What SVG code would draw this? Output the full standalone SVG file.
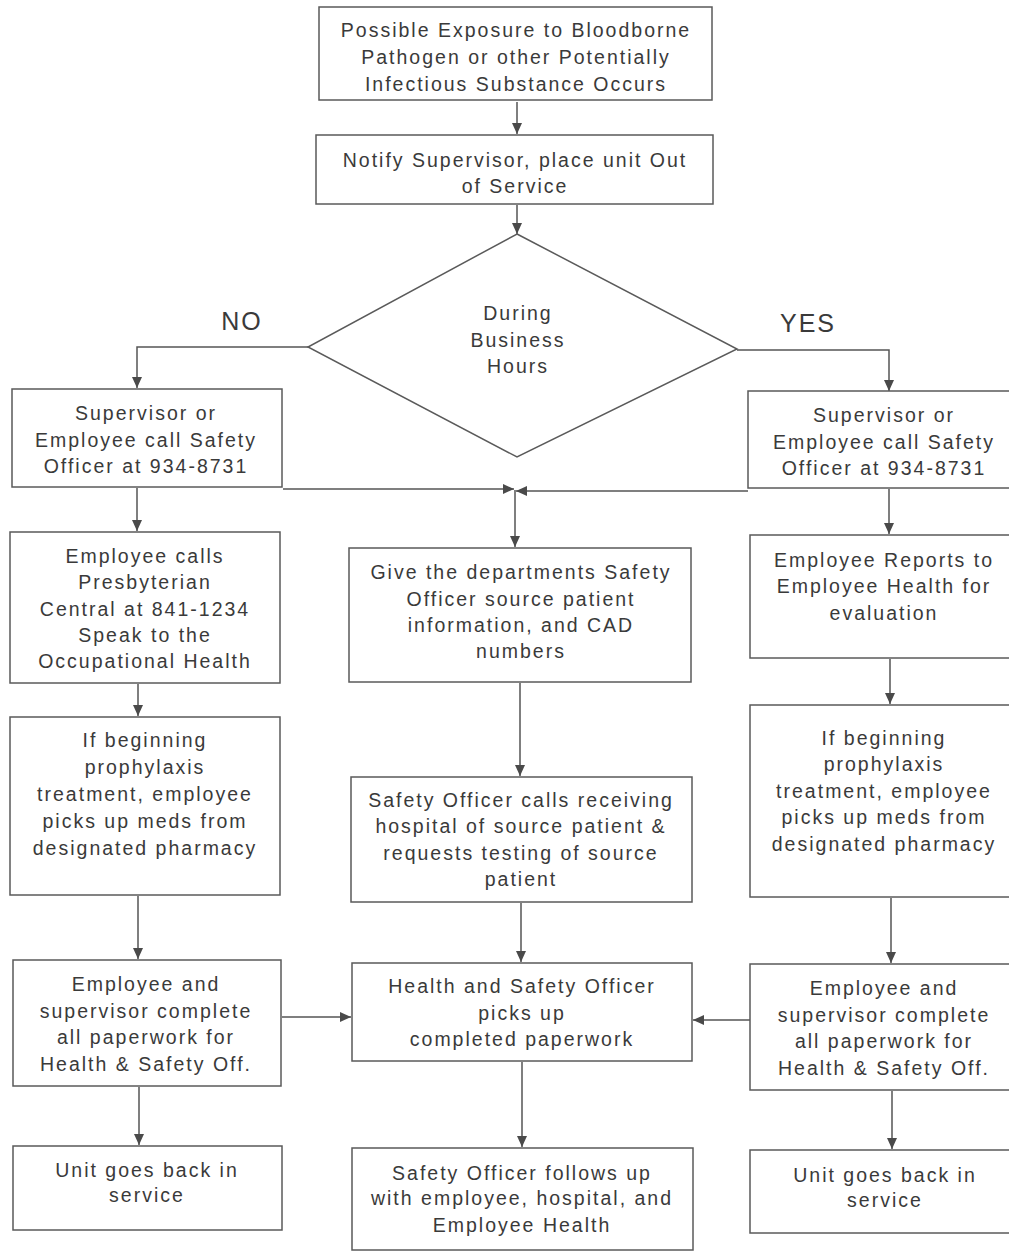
<svg xmlns="http://www.w3.org/2000/svg" width="1009" height="1252" viewBox="0 0 1009 1252">
<style>
.b{fill:#fff;stroke:#5a5a5a;stroke-width:1.5}
.t{font-family:"Liberation Sans",Arial,sans-serif;font-size:19.5px;letter-spacing:2px;fill:#3a3a3a;text-anchor:middle}
.l{font-family:"Liberation Sans",Arial,sans-serif;font-size:25px;letter-spacing:2px;fill:#3a3a3a;text-anchor:middle}
.c{fill:none;stroke:#555;stroke-width:1.5}
</style>
<defs>
<marker id="ah" markerUnits="userSpaceOnUse" markerWidth="12" markerHeight="10" refX="11" refY="5" orient="auto"><path d="M0,0 L11,5 L0,10 Z" fill="#4a4a4a"/></marker>
</defs>
<rect width="1009" height="1252" fill="#fff"/>
<g id="connectors">
<path class="c" marker-end="url(#ah)" d="M517,102 V134"/>
<path class="c" marker-end="url(#ah)" d="M517,205 V234"/>
<path class="c" marker-end="url(#ah)" d="M308,347 H137 V388"/>
<path class="c" marker-end="url(#ah)" d="M737,350 H889 V391"/>
<path class="c" marker-end="url(#ah)" d="M137,488 V531"/>
<path class="c" marker-end="url(#ah)" d="M283,489 H514"/>
<path class="c" marker-end="url(#ah)" d="M748,491 H516"/>
<path class="c" marker-end="url(#ah)" d="M515,490 V547"/>
<path class="c" marker-end="url(#ah)" d="M889,489 V534"/>
<path class="c" marker-end="url(#ah)" d="M138,684 V716"/>
<path class="c" marker-end="url(#ah)" d="M890,659 V704"/>
<path class="c" marker-end="url(#ah)" d="M520,683 V776"/>
<path class="c" marker-end="url(#ah)" d="M138,896 V959"/>
<path class="c" marker-end="url(#ah)" d="M521,903 V962"/>
<path class="c" marker-end="url(#ah)" d="M891,898 V963"/>
<path class="c" marker-end="url(#ah)" d="M282,1017 H351"/>
<path class="c" marker-end="url(#ah)" d="M750,1020 H693"/>
<path class="c" marker-end="url(#ah)" d="M139,1087 V1145"/>
<path class="c" marker-end="url(#ah)" d="M522,1062 V1147"/>
<path class="c" marker-end="url(#ah)" d="M892,1091 V1149"/>
</g>
<g id="start"><rect class="b" x="319" y="7" width="393" height="93"/>
<text class="t" x="516" y="37">Possible Exposure to Bloodborne</text><text class="t" x="516" y="64">Pathogen or other Potentially</text><text class="t" x="516" y="91">Infectious Substance Occurs</text></g>
<g id="notify"><rect class="b" x="316" y="135" width="397" height="69"/>
<text class="t" x="515" y="167">Notify Supervisor, place unit Out</text><text class="t" x="515" y="193">of Service</text></g>
<g id="decision"><polygon class="b" points="517,234 737,349 517,457 308,347"/>
<text class="t" x="518" y="320">During</text><text class="t" x="518" y="347">Business</text><text class="t" x="518" y="373">Hours</text></g>
<g id="label-no"><text class="l" x="242" y="330">NO</text></g>
<g id="label-yes"><text class="l" x="808" y="332">YES</text></g>
<g id="l1"><rect class="b" x="12" y="389" width="270" height="98"/>
<text class="t" x="146" y="420">Supervisor or</text><text class="t" x="146" y="447">Employee call Safety</text><text class="t" x="146" y="473">Officer at 934-8731</text></g>
<g id="r1"><rect class="b" x="748" y="391" width="267" height="97"/>
<text class="t" x="884" y="422">Supervisor or</text><text class="t" x="884" y="449">Employee call Safety</text><text class="t" x="884" y="475">Officer at 934-8731</text></g>
<g id="l2"><rect class="b" x="10" y="532" width="270" height="151"/>
<text class="t" x="145" y="563">Employee calls</text><text class="t" x="145" y="589">Presbyterian</text><text class="t" x="145" y="616">Central at 841-1234</text><text class="t" x="145" y="642">Speak to the</text><text class="t" x="145" y="668">Occupational Health</text></g>
<g id="m1"><rect class="b" x="349" y="548" width="342" height="134"/>
<text class="t" x="521" y="579">Give the departments Safety</text><text class="t" x="521" y="606">Officer source patient</text><text class="t" x="521" y="632">information, and CAD</text><text class="t" x="521" y="658">numbers</text></g>
<g id="r2"><rect class="b" x="750" y="535" width="265" height="123"/>
<text class="t" x="884" y="567">Employee Reports to</text><text class="t" x="884" y="593">Employee Health for</text><text class="t" x="884" y="620">evaluation</text></g>
<g id="l3"><rect class="b" x="10" y="717" width="270" height="178"/>
<text class="t" x="145" y="747">If beginning</text><text class="t" x="145" y="774">prophylaxis</text><text class="t" x="145" y="801">treatment, employee</text><text class="t" x="145" y="828">picks up meds from</text><text class="t" x="145" y="855">designated pharmacy</text></g>
<g id="m2"><rect class="b" x="351" y="777" width="341" height="125"/>
<text class="t" x="521" y="807">Safety Officer calls receiving</text><text class="t" x="521" y="833">hospital of source patient &amp;</text><text class="t" x="521" y="860">requests testing of source</text><text class="t" x="521" y="886">patient</text></g>
<g id="r3"><rect class="b" x="750" y="705" width="265" height="192"/>
<text class="t" x="884" y="745">If beginning</text><text class="t" x="884" y="771">prophylaxis</text><text class="t" x="884" y="798">treatment, employee</text><text class="t" x="884" y="824">picks up meds from</text><text class="t" x="884" y="851">designated pharmacy</text></g>
<g id="l4"><rect class="b" x="13" y="960" width="268" height="126"/>
<text class="t" x="146" y="991">Employee and</text><text class="t" x="146" y="1018">supervisor complete</text><text class="t" x="146" y="1044">all paperwork for</text><text class="t" x="146" y="1071">Health &amp; Safety Off.</text></g>
<g id="m3"><rect class="b" x="352" y="963" width="340" height="98"/>
<text class="t" x="522" y="993">Health and Safety Officer</text><text class="t" x="522" y="1020">picks up</text><text class="t" x="522" y="1046">completed paperwork</text></g>
<g id="r4"><rect class="b" x="750" y="964" width="265" height="126"/>
<text class="t" x="884" y="995">Employee and</text><text class="t" x="884" y="1022">supervisor complete</text><text class="t" x="884" y="1048">all paperwork for</text><text class="t" x="884" y="1075">Health &amp; Safety Off.</text></g>
<g id="l5"><rect class="b" x="13" y="1146" width="269" height="84"/>
<text class="t" x="147" y="1177">Unit goes back in</text><text class="t" x="147" y="1202">service</text></g>
<g id="m4"><rect class="b" x="352" y="1148" width="341" height="102"/>
<text class="t" x="522" y="1180">Safety Officer follows up</text><text class="t" x="522" y="1205">with employee, hospital, and</text><text class="t" x="522" y="1232">Employee Health</text></g>
<g id="r5"><rect class="b" x="750" y="1150" width="265" height="83"/>
<text class="t" x="885" y="1182">Unit goes back in</text><text class="t" x="885" y="1207">service</text></g>
</svg>
